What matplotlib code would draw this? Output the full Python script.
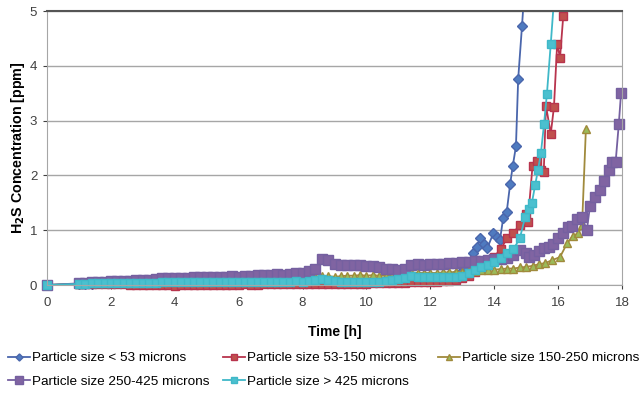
import numpy as np
import matplotlib
matplotlib.use("Agg")
import matplotlib.pyplot as plt
from matplotlib.patches import Rectangle

plt.rcParams["font.family"] = ["Liberation Sans", "DejaVu Sans"]

# H2S concentration vs time, 5 particle size fractions

# shared time grid for the flat part (h)
t_base = [0.0, 1.0, 1.2, 1.4, 1.6, 1.8, 2.0, 2.2, 2.4, 2.6, 2.8,
          3.0, 3.2, 3.4, 3.6, 3.8, 4.0, 4.2, 4.4, 4.6, 4.8,
          5.0, 5.2, 5.4, 5.6, 5.8, 6.0, 6.2, 6.4, 6.6, 6.8,
          7.0, 7.2, 7.4, 7.6, 7.8, 8.0, 8.2, 8.4, 8.6, 8.8,
          9.0, 9.2, 9.4, 9.6, 9.8, 10.0, 10.2, 10.4, 10.6, 10.8,
          11.0, 11.2, 11.4, 11.6, 11.8, 12.0]

# < 53 microns
v1_base = [0.0, 0.02, 0.02, 0.02, 0.03, 0.03, 0.03, 0.03, 0.03, 0.03, 0.04,
           0.04, 0.04, 0.04, 0.04, 0.04, 0.04, 0.05, 0.05, 0.05, 0.05,
           0.05, 0.05, 0.05, 0.05, 0.05, 0.05, 0.05, 0.05, 0.05, 0.05,
           0.05, 0.05, 0.05, 0.06, 0.06, 0.06, 0.06, 0.07, 0.08, 0.07,
           0.06, 0.06, 0.06, 0.06, 0.06, 0.06, 0.06, 0.07, 0.08, 0.09,
           0.10, 0.12, 0.14, 0.14, 0.14, 0.14]
t1_tail = [12.2, 12.4, 12.6, 12.8, 13.0, 13.1, 13.2, 13.34, 13.45, 13.56,
           13.67, 13.78, 13.97, 14.08, 14.18, 14.28, 14.39, 14.5, 14.58, 14.68,
           14.75, 14.87, 14.97]
v1_tail = [0.15, 0.17, 0.18, 0.2, 0.25, 0.33, 0.4, 0.58, 0.7, 0.85,
           0.75, 0.67, 0.94, 0.88, 0.82, 1.22, 1.33, 1.85, 2.17, 2.53,
           3.76, 4.73, 5.6]

# 53-150 microns
v2_base = [0.0, 0.01, 0.01, 0.01, 0.01, 0.01, 0.01, 0.01, 0.01, 0.0, 0.0,
           0.0, 0.0, 0.0, 0.0, 0.0, -0.01, 0.0, 0.0, 0.0, 0.0,
           0.0, 0.0, 0.0, 0.0, 0.0, 0.0, 0.01, 0.0, 0.0, 0.01,
           0.01, 0.01, 0.01, 0.01, 0.01, 0.01, 0.01, 0.02, 0.02, 0.02,
           0.02, 0.02, 0.02, 0.02, 0.02, 0.02, 0.03, 0.03, 0.03, 0.03,
           0.04, 0.04, 0.05, 0.05, 0.05, 0.06]
t2_tail = [12.2, 12.4, 12.6, 12.8, 13.0, 13.2, 13.4, 13.6, 13.8, 14.0,
           14.2, 14.4, 14.6, 14.8, 15.0, 15.05, 15.2, 15.33, 15.45, 15.55,
           15.62, 15.77, 15.87, 15.97, 16.06, 16.16, 16.3]
v2_tail = [0.06, 0.07, 0.08, 0.10, 0.12, 0.17, 0.24, 0.32, 0.42, 0.52,
           0.65, 0.85, 0.95, 1.1, 1.3, 1.15, 2.18, 2.27, 2.1, 2.06,
           3.27, 2.76, 3.25, 4.4, 4.15, 4.9, 5.8]

# 150-250 microns
v3_base = [0.0, 0.02, 0.03, 0.03, 0.04, 0.04, 0.05, 0.05, 0.05, 0.05, 0.06,
           0.06, 0.06, 0.06, 0.06, 0.07, 0.07, 0.07, 0.07, 0.08, 0.08,
           0.08, 0.08, 0.08, 0.08, 0.09, 0.09, 0.09, 0.09, 0.10, 0.10,
           0.10, 0.10, 0.10, 0.11, 0.11, 0.12, 0.13, 0.15, 0.17, 0.16,
           0.15, 0.16, 0.17, 0.17, 0.18, 0.17, 0.18, 0.17, 0.17, 0.18,
           0.19, 0.21, 0.23, 0.22, 0.22, 0.22]
t3_tail = [12.2, 12.4, 12.6, 12.8, 13.0, 13.2, 13.4, 13.6, 13.8, 14.0,
           14.2, 14.4, 14.6, 14.8, 15.0, 15.2, 15.4, 15.6, 15.8, 16.06,
           16.28, 16.47, 16.63, 16.75, 16.87]
v3_tail = [0.22, 0.23, 0.23, 0.24, 0.24, 0.25, 0.26, 0.27, 0.28, 0.28,
           0.29, 0.30, 0.30, 0.32, 0.33, 0.35, 0.38, 0.40, 0.45, 0.51,
           0.76, 0.9, 0.94, 1.09, 2.85]

# 250-425 microns
v4_base = [0.0, 0.03, 0.04, 0.05, 0.05, 0.06, 0.07, 0.07, 0.08, 0.08, 0.09,
           0.09, 0.10, 0.11, 0.12, 0.12, 0.12, 0.13, 0.13, 0.14, 0.15,
           0.14, 0.15, 0.15, 0.15, 0.16, 0.15, 0.16, 0.17, 0.18, 0.19,
           0.19, 0.20, 0.19, 0.20, 0.21, 0.22, 0.25, 0.30, 0.47, 0.45,
           0.38, 0.36, 0.36, 0.37, 0.36, 0.35, 0.34, 0.32, 0.30, 0.29,
           0.27, 0.30, 0.36, 0.38, 0.37, 0.38]
t4_tail = [12.2, 12.4, 12.6, 12.8, 13.0, 13.2, 13.4, 13.6, 13.8, 14.0,
           14.2, 14.4, 14.6, 14.8, 15.0, 15.1, 15.25, 15.4, 15.55, 15.7,
           15.85, 16.0, 16.15, 16.3, 16.45, 16.6, 16.75, 16.9, 17.0, 17.15,
           17.3, 17.45, 17.6, 17.7, 17.8, 17.9, 17.97]
v4_tail = [0.38, 0.39, 0.40, 0.41, 0.42, 0.42, 0.43, 0.44, 0.46, 0.47,
           0.48, 0.50, 0.55, 0.64, 0.58, 0.51, 0.55, 0.62, 0.68, 0.69,
           0.75, 0.85, 0.95, 1.05, 1.08, 1.20, 1.24, 1.0, 1.45, 1.6,
           1.73, 1.9, 2.1, 2.24, 2.24, 2.94, 3.5]

# > 425 microns
v5_base = [0.0, 0.02, 0.02, 0.03, 0.03, 0.03, 0.03, 0.03, 0.04, 0.04, 0.04,
           0.04, 0.04, 0.04, 0.05, 0.05, 0.05, 0.05, 0.05, 0.05, 0.06,
           0.05, 0.05, 0.06, 0.05, 0.05, 0.05, 0.05, 0.06, 0.06, 0.06,
           0.05, 0.05, 0.06, 0.06, 0.07, 0.06, 0.07, 0.09, 0.11, 0.09,
           0.07, 0.06, 0.06, 0.05, 0.06, 0.06, 0.05, 0.06, 0.08, 0.10,
           0.11, 0.13, 0.16, 0.15, 0.14, 0.14]
t5_tail = [12.2, 12.4, 12.6, 12.8, 13.0, 13.2, 13.4, 13.6, 13.8, 14.0,
           14.2, 14.4, 14.6, 14.8, 14.97, 15.08, 15.18, 15.28, 15.37, 15.46,
           15.56, 15.65, 15.77, 15.92]
v5_tail = [0.14, 0.14, 0.15, 0.15, 0.17, 0.22, 0.27, 0.32, 0.37, 0.42,
           0.50, 0.58, 0.65, 0.85, 1.24, 1.38, 1.5, 1.82, 2.1, 2.4,
           2.94, 3.49, 4.4, 5.6]

labels = ["Particle size < 53 microns", "Particle size 53-150 microns",
          "Particle size 150-250 microns", "Particle size 250-425 microns",
          "Particle size > 425 microns"]

series = [(t1_tail, v1_base, v1_tail), (t2_tail, v2_base, v2_tail),
          (t3_tail, v3_base, v3_tail), (t4_tail, v4_base, v4_tail),
          (t5_tail, v5_base, v5_tail)]

styles = [
    dict(color="#4a66ac", marker="D", mfc="#4f7bc0", mec="#4a66ac", ms=4.8),
    dict(color="#b8344d", marker="s", mfc="#c0504d", mec="#b8344d", ms=5.2),
    dict(color="#a08a3c", marker="^", mfc="#9bbb59", mec="#a08a3c", ms=5.8),
    dict(color="#7560a0", marker="s", mfc="#8064a2", mec="#7560a0", ms=7),
    dict(color="#3fb8c8", marker="s", mfc="#4bc0cf", mec="#3fb8c8", ms=5.6),
]

fig = plt.figure(figsize=(6.42, 3.98), dpi=100)
ax = fig.add_axes([47/642, 1-285/398, 575/642, 274/398])

# lets markers at 0 show fully but cut lines at the top (5 ppm)
clip = Rectangle((-0.03, -0.08), 1.06, 1.08, transform=ax.transAxes)

handles = []
for (tt, vb, vt), lab, st in zip(series, labels, styles):
    x = list(t_base) + list(tt)
    y = list(vb) + list(vt)
    ln, = ax.plot(x, y, lw=1.3, label=lab, **st)
    ln.set_clip_path(clip)
    handles.append(ln)

ax.set_xlim(0, 18)
ax.set_ylim(0, 5)
ax.set_xticks(np.arange(0, 19, 2))
ax.set_yticks(np.arange(0, 6, 1))
ax.yaxis.grid(True, color="#a6a6a6", lw=1)
ax.set_axisbelow(True)
ax.tick_params(axis="both", labelsize=9.5, colors="#404040", length=3, width=0.8,
               labelcolor="#404040")
ax.tick_params(axis="x", pad=6)
ax.tick_params(axis="y", pad=4)

for s in ["left", "right", "bottom"]:
    ax.spines[s].set_color("#a6a6a6")
ax.spines["top"].set_color("#555555")
ax.spines["top"].set_linewidth(1.5)

ax.set_xlabel("Time [h]", fontweight="bold", fontsize=10, labelpad=11)
ax.set_ylabel("H$_\\mathbf{2}$S Concentration [ppm]", fontweight="bold",
              fontsize=10.3, labelpad=2)

# legend, one box per column so the columns sit where they are in the original
cols = [([handles[0], handles[3]], 8), ([handles[1], handles[4]], 223), ([handles[2]], 438)]
for hs, xpx in cols:
    fig.legend(handles=hs, labels=[h.get_label() for h in hs], loc="upper left",
               bbox_to_anchor=(xpx/642, 1-352/398), frameon=False, fontsize=9.7,
               handlelength=1.6, handletextpad=0.15, labelspacing=0.8,
               borderaxespad=0, borderpad=0, markerscale=0.75)

plt.savefig("out.png", dpi=100)
